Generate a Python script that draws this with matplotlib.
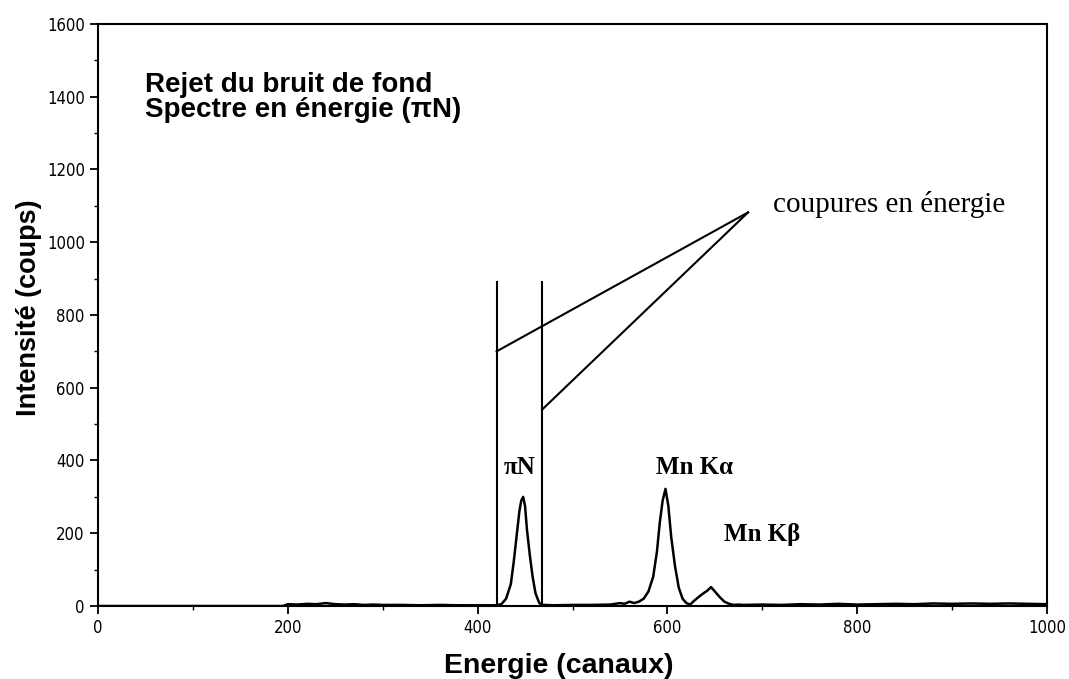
import matplotlib
matplotlib.use("Agg")
import matplotlib.pyplot as plt
from matplotlib.ticker import MultipleLocator

# ---- data ----
channels = [0, 50, 100, 150, 195, 200, 210, 220, 230, 240, 250, 260, 270, 280, 290,
            300, 320, 340, 360, 380, 400, 415, 420, 425, 430, 435, 438, 441, 444, 446,
            448, 450, 452, 455, 458, 461, 465, 468, 470, 480, 500, 520, 540, 550, 555,
            560, 565, 570, 575, 580, 585, 589, 592, 595, 598, 601, 604, 608, 612, 616,
            620, 624, 628, 633, 638, 642, 646, 650, 655, 660, 665, 670, 675, 680, 700,
            720, 740, 760, 780, 800, 820, 840, 860, 880, 900, 920, 940, 960, 980, 1000]
counts = [0, 0, 0, 0, 0, 5, 4, 6, 5, 8, 5, 4, 5, 3, 4,
          3, 3, 2, 3, 2, 2, 2, 2, 5, 20, 60, 120, 190, 260, 290,
          300, 275, 210, 140, 80, 35, 8, 3, 3, 2, 3, 3, 4, 8, 6,
          12, 8, 12, 20, 40, 80, 150, 230, 290, 322, 275, 190, 110, 50, 20,
          8, 4, 14, 25, 35, 42, 52, 40, 25, 12, 6, 3, 4, 3, 4,
          3, 5, 4, 6, 4, 5, 6, 5, 7, 6, 7, 6, 7, 6, 5]

cut_positions = [420, 468]
cut_top = 890
cut_arrow_start = [700, 540]
label_anchor = (685, 1082)

peak_labels = ["\u03c0N", "Mn K\u03b1", "Mn K\u03b2"]
peak_label_x = [428, 588, 660]
peak_label_y = [364, 364, 180]

title_lines = ["Rejet du bruit de fond", "Spectre en \u00e9nergie (\u03c0N)"]
title_y = [1412, 1343]

# ---- figure ----
fig = plt.figure(figsize=(10.69, 6.79), dpi=100)
ax = fig.add_axes([0.0917, 0.1075, 0.8877, 0.8572])

ax.plot(channels, counts, color="black", lw=1.8)

for xc in cut_positions:
    ax.plot([xc, xc], [0, cut_top], color="black", lw=1.5)
for xc, ys in zip(cut_positions, cut_arrow_start):
    ax.plot([xc, label_anchor[0]], [ys, label_anchor[1]], color="black", lw=1.5)

ax.text(711, 1082, "coupures en \u00e9nergie", family="Liberation Serif",
        fontsize=21, va="baseline", ha="left")

for lab, x, y in zip(peak_labels, peak_label_x, peak_label_y):
    ax.text(x, y, lab, family="Liberation Serif", fontsize=18, fontweight="bold",
            ha="left", va="baseline")

for line, y in zip(title_lines, title_y):
    ax.text(50, y, line, family="Liberation Sans", fontsize=20,
            fontweight="bold", va="baseline", ha="left")

ax.set_xlim(0, 1000)
ax.set_ylim(0, 1600)
ax.xaxis.set_major_locator(MultipleLocator(200))
ax.xaxis.set_minor_locator(MultipleLocator(100))
ax.yaxis.set_major_locator(MultipleLocator(200))
ax.yaxis.set_minor_locator(MultipleLocator(100))
ax.tick_params(which="major", direction="out", length=6, width=1.3, labelsize=12)
ax.tick_params(which="minor", direction="out", length=3, width=1)
for lab in ax.get_xticklabels() + ax.get_yticklabels():
    lab.set_family("DejaVu Sans")
    lab.set_stretch("condensed")
for sp in ax.spines.values():
    sp.set_linewidth(1.5)

ax.set_xlabel("Energie (canaux)", family="Liberation Sans", fontsize=20.5,
              fontweight="bold")
ax.set_ylabel("Intensit\u00e9 (coups)", family="Liberation Sans", fontsize=19.5,
              fontweight="bold")
ax.xaxis.set_label_coords(0.485, -0.081)
ax.yaxis.set_label_coords(-0.059, 0.512)

fig.savefig("out.png", dpi=100)
